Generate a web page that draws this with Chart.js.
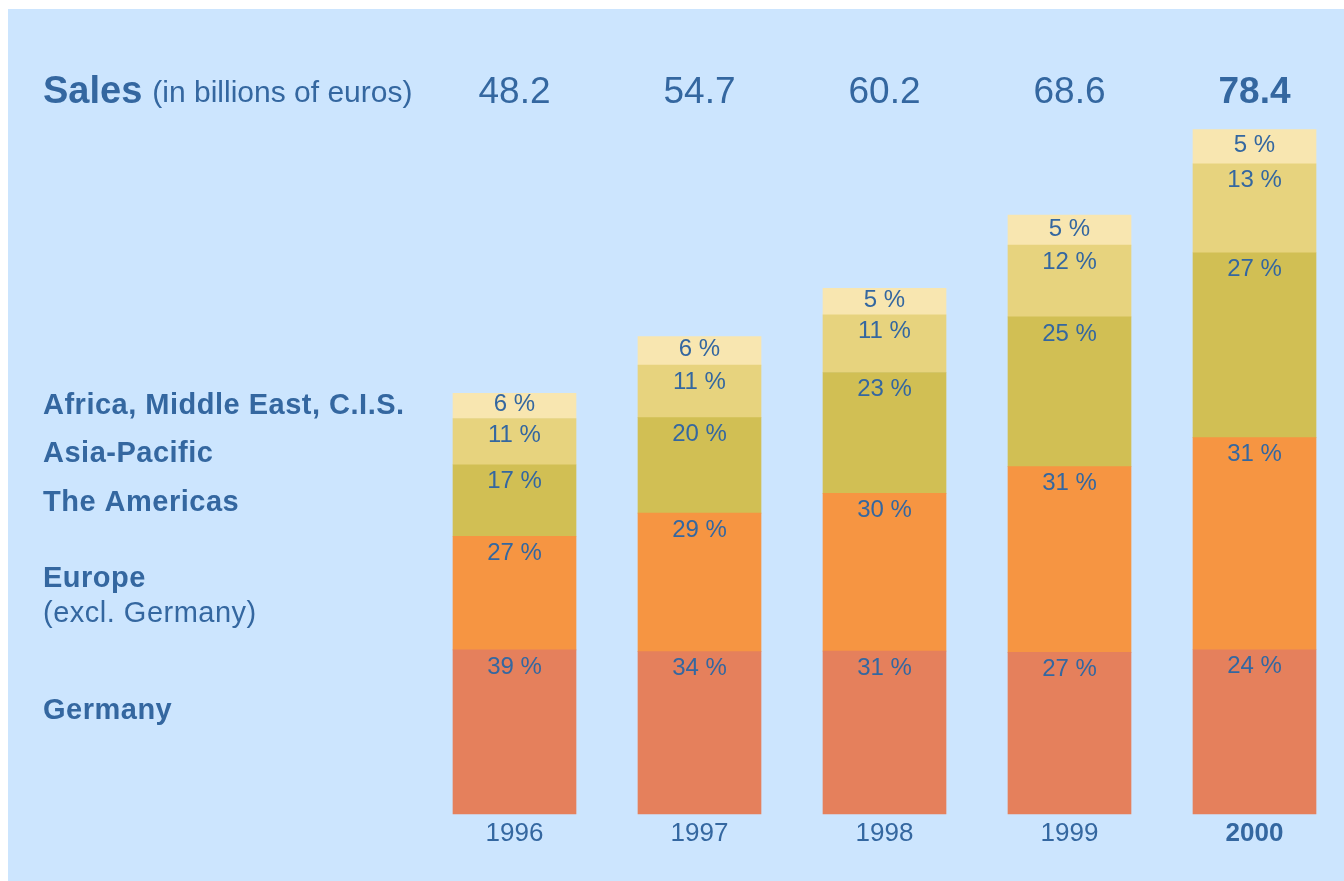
<!DOCTYPE html>
<html>
<head>
<meta charset="utf-8">
<script src="https://cdn.jsdelivr.net/npm/chart.js@4.4.0/dist/chart.umd.min.js"></script>
<style>
  html, body { margin: 0; padding: 0; background: #fff; }
</style>
</head>
<body>
<canvas id="salesChart" width="1344" height="881"></canvas>
<script>
const years = ['1996', '1997', '1998', '1999', '2000'];
const sales = [48.2, 54.7, 60.2, 68.6, 78.4];
const regionNames = ['Germany', 'Europe', 'The Americas', 'Asia-Pacific', 'Africa, Middle East, C.I.S.'];
const shareGermany = [39, 34, 31, 27, 24];
const shareEurope = [27, 29, 30, 31, 31];
const shareAmericas = [17, 20, 23, 25, 27];
const shareAsiaPacific = [11, 11, 11, 12, 13];
const shareAfrica = [6, 6, 5, 5, 5];

const FONT = "'Liberation Sans', Arial, sans-serif";
const TEXT = '#3467a0';
const colors = ['#e5805c', '#f69542', '#d1bf54', '#e7d37e', '#f8e6b0'];
const shares = [shareGermany, shareEurope, shareAmericas, shareAsiaPacific, shareAfrica];

// segment value in billions = total sales * share
const datasets = shares.map((s, k) => ({
    label: regionNames[k],
    data: s.map((p, i) => sales[i] * p / 100),
    shares: s,
    backgroundColor: colors[k],
    borderWidth: 0,
    barThickness: 123,
    clip: false
}));

// left-hand legend text, y given in data units on the y scale
const legendRows = [
    { text: 'Africa, Middle East, C.I.S.', at: 46.75, bold: true },
    { text: 'Asia-Pacific', at: 41.25, bold: true },
    { text: 'The Americas', at: 35.65, bold: true },
    { text: 'Europe', at: 26.9, bold: true },
    { text: '(excl. Germany)', at: 22.95, bold: false },
    { text: 'Germany', at: 11.85, bold: true }
];

const decor = {
    id: 'decor',
    beforeDraw(chart) {
        const c = chart.ctx;
        c.save();
        c.fillStyle = '#cce5fe';
        c.fillRect(8, 9, chart.width - 8, chart.height - 9);
        c.restore();
    },
    afterDatasetsDraw(chart) {
        const c = chart.ctx;
        const xs = chart.scales.x, ys = chart.scales.y;
        c.save();
        c.fillStyle = TEXT;
        c.textBaseline = 'middle';

        // percentages inside the segments
        c.textAlign = 'center';
        c.font = '24px ' + FONT;
        chart.data.datasets.forEach((ds, k) => {
            chart.getDatasetMeta(k).data.forEach((bar, i) => {
                const top = Math.min(bar.y, bar.base);
                const h = Math.abs(bar.base - bar.y);
                const y = top + Math.min(17, h / 2 - 1);
                c.fillText(ds.shares[i] + ' %', bar.x, y);
            });
        });

        // header row
        const headY = chart.chartArea.top - 23;
        c.font = 'bold 38px ' + FONT;
        c.textAlign = 'left';
        c.fillText('Sales', 43, headY);
        const w = c.measureText('Sales').width;
        c.font = '30px ' + FONT;
        c.fillText('(in billions of euros)', 43 + w + 10, headY + 1);
        c.textAlign = 'center';
        sales.forEach((v, i) => {
            c.font = (i === sales.length - 1 ? 'bold ' : '') + '37px ' + FONT;
            c.fillText(v.toFixed(1), xs.getPixelForValue(i), headY);
        });

        // region names
        c.textAlign = 'left';
        c.letterSpacing = '0.5px';
        legendRows.forEach(r => {
            c.font = (r.bold ? 'bold ' : '') + '29px ' + FONT;
            c.fillText(r.text, 43, ys.getPixelForValue(r.at));
        });
        c.restore();
    }
};

const ctx = document.getElementById('salesChart').getContext('2d');
const salesChart = new Chart(ctx, {
    type: 'bar',
    data: { labels: years, datasets: datasets },
    options: {
        responsive: false,
        animation: false,
        layout: { padding: { left: 514.5, right: 89.5, top: 115.6, bottom: 27.8 } },
        plugins: { legend: { display: false }, tooltip: { enabled: false } },
        scales: {
            x: {
                stacked: true,
                offset: false,
                grid: { display: false, drawTicks: false },
                border: { display: false },
                ticks: {
                    color: TEXT,
                    padding: 4,
                    font: (c) => ({ family: FONT, size: 26, weight: c.index === years.length - 1 ? 'bold' : 'normal' })
                }
            },
            y: {
                stacked: true,
                display: false,
                min: 0,
                max: 80
            }
        }
    },
    plugins: [decor]
});
</script>
</body>
</html>
